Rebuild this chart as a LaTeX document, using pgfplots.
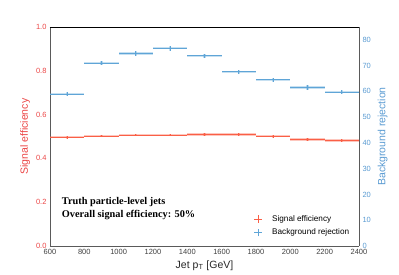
\documentclass[border=0pt]{standalone}
\usepackage{pgfplots}
\pgfplotsset{compat=1.18}
\usepackage{fontspec}
\setmainfont{Liberation Sans}
\newfontfamily\serifb{Liberation Serif}
\definecolor{sigred}{RGB}{250,95,70}
\definecolor{sigtxt}{RGB}{235,70,70}
\definecolor{bkgblue}{RGB}{95,165,215}
\definecolor{bkgtxt}{RGB}{90,155,210}
\definecolor{spine}{RGB}{90,90,90}
\pgfplotstableread{
x ex y ey
700 100 0.496 0.006
900 100 0.502 0.006
1100 100 0.507 0.006
1300 100 0.507 0.006
1500 100 0.509 0.006
1700 100 0.509 0.006
1900 100 0.501 0.006
2100 100 0.486 0.006
2300 100 0.482 0.006
}\sigtab
\pgfplotstableread{
x ex y ey
700 100 59.0 0.9
900 100 71.0 0.9
1100 100 74.7 0.9
1300 100 76.8 1.0
1500 100 73.8 0.9
1700 100 67.6 0.9
1900 100 64.5 0.9
2100 100 61.5 0.8
2300 100 59.7 0.8
}\bkgtab
\begin{document}
\begin{tikzpicture}
\path[use as bounding box] (-50pt,-28pt) rectangle (349pt,246pt);
\pgfplotsset{
  every axis/.append style={
    scale only axis, width=309pt, height=219pt,
    xmin=600, xmax=2400,
    major tick length=0pt,
    tick label style={font=\fontsize{7.5}{8}\selectfont},
    /pgf/number format/assume math mode=true,
    axis line style={spine, line width=0.8pt},
  },
}
\begin{axis}[
  ymin=0, ymax=1,
  axis y line*=left, axis x line*=box,
  xtick={600,800,...,2400},
  ytick={0,0.2,...,1.0},
  yticklabel style={color=sigtxt, /pgf/number format/.cd, fixed, fixed zerofill, precision=1},
  xticklabel style={color=black!75, /pgf/number format/.cd, 1000 sep={}},
  ylabel={Signal efficiency},
  ylabel style={color=sigtxt, font=\fontsize{10.5}{11}\selectfont, yshift=-1pt},
  xlabel={Jet p\textsubscript{T} [GeV]},
  xlabel style={font=\fontsize{10.5}{11}\selectfont, color=black!85, yshift=1pt},
]
\addplot[draw=none, mark=none, error bars/.cd, x dir=both, x explicit, y dir=both, y explicit,
  error mark=none, error bar style={sigred, opacity=0.35, line width=2.2pt}]
  table[x=x, y=y, x error=ex, y error=ey] {\sigtab};
\addplot[draw=none, mark=none, error bars/.cd, x dir=both, x explicit, y dir=both, y explicit,
  error mark=none, error bar style={sigred, line width=0.9pt}]
  table[x=x, y=y, x error=ex, y error=ey] {\sigtab};
\node[anchor=north west, inner sep=0pt, align=left, font=\serifb\bfseries\fontsize{10.3}{13}\selectfont]
  at (rel axis cs:0.038,0.222) {Truth particle-level jets\\Overall signal efficiency: 50\%};
\draw[black, line width=0.8pt] (rel axis cs:0,1) -- (rel axis cs:1,1);
\end{axis}
\begin{axis}[
  ymin=0, ymax=85,
  axis y line*=right, axis x line=none,
  ytick={0,10,...,80},
  yticklabel style={color=bkgtxt},
  ylabel={Background rejection},
  ylabel style={color=bkgtxt, font=\fontsize{10.5}{11}\selectfont},
  legend style={draw=none, fill=none, at={(rel axis cs:0.985,0.025)}, anchor=south east,
    font=\fontsize{8.2}{10}\selectfont, row sep=2pt},
  legend cell align=left,
]
\addlegendimage{legend image code/.code={\draw[sigred, line width=0.9pt] (0.15cm,-0.13cm)--(0.15cm,0.13cm) (0.02cm,0cm)--(0.28cm,0cm);}}
\addlegendentry{\hspace{8pt}Signal efficiency}
\addlegendimage{legend image code/.code={\draw[bkgblue, line width=0.9pt] (0.15cm,-0.13cm)--(0.15cm,0.13cm) (0.02cm,0cm)--(0.28cm,0cm);}}
\addlegendentry{\hspace{8pt}Background rejection}
\addplot[forget plot, draw=none, mark=none, error bars/.cd, x dir=both, x explicit, y dir=both, y explicit,
  error mark=none, error bar style={bkgblue, opacity=0.35, line width=2.2pt}]
  table[x=x, y=y, x error=ex, y error=ey] {\bkgtab};
\addplot[forget plot, draw=none, mark=none, error bars/.cd, x dir=both, x explicit, y dir=both, y explicit,
  error mark=none, error bar style={bkgblue, line width=0.9pt}]
  table[x=x, y=y, x error=ex, y error=ey] {\bkgtab};
\end{axis}
\end{tikzpicture}
\end{document}
